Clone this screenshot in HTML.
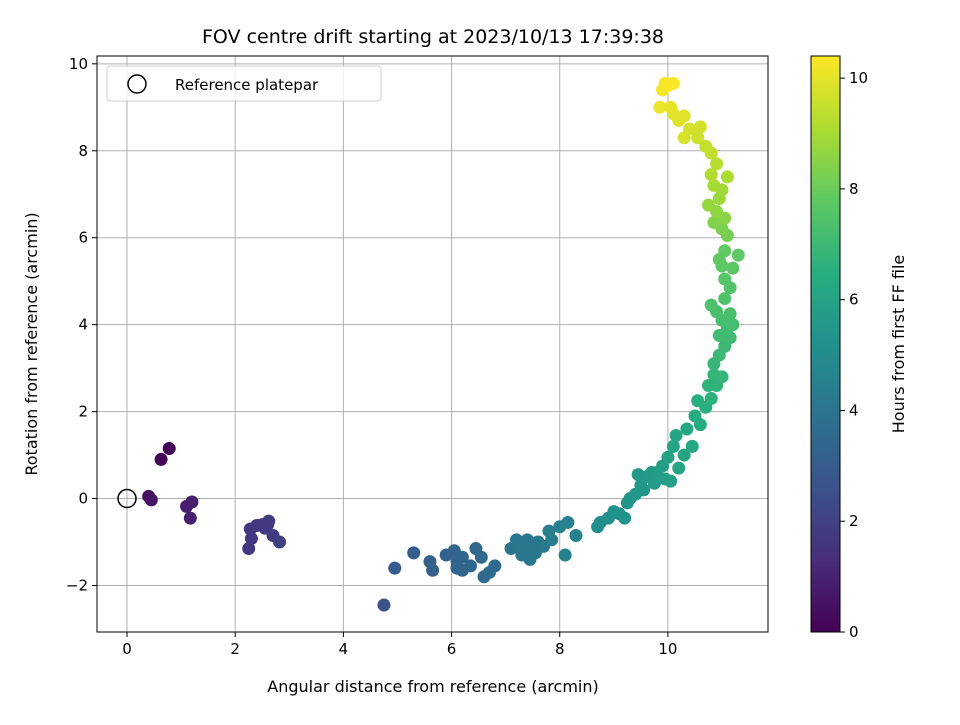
<!DOCTYPE html>
<html><head><meta charset="utf-8"><style>
body{margin:0;background:#fff;font-family:"Liberation Sans","DejaVu Sans",sans-serif}
</style></head><body>
<svg id="chart" width="960" height="720" xmlns="http://www.w3.org/2000/svg" font-family="DejaVu Sans, Liberation Sans, sans-serif">
<defs>
<linearGradient id="vir" x1="0" y1="1" x2="0" y2="0">
<stop offset="0" stop-color="#440154"/><stop offset="0.125" stop-color="#472d7b"/><stop offset="0.25" stop-color="#3b528b"/><stop offset="0.375" stop-color="#2c728e"/><stop offset="0.5" stop-color="#21918c"/><stop offset="0.625" stop-color="#28ae80"/><stop offset="0.75" stop-color="#5ec962"/><stop offset="0.875" stop-color="#addc30"/><stop offset="1" stop-color="#fde725"/>
</linearGradient>
</defs>
<rect x="0" y="0" width="960" height="720" fill="#fff"/>
<text x="433" y="43" font-size="19" text-anchor="middle">FOV centre drift starting at 2023/10/13 17:39:38</text>
<g id="grid"></g>
<g id="points"></g>
<rect x="97" y="56" width="671" height="576" fill="none" stroke="#000" stroke-width="1"/>
<g id="ticks"></g>
<text x="433" y="692" font-size="16" text-anchor="middle">Angular distance from reference (arcmin)</text>
<text transform="translate(37,344) rotate(-90)" font-size="16" text-anchor="middle">Rotation from reference (arcmin)</text>
<g>
<rect x="107" y="66" width="274" height="35" rx="3" fill="#fff" fill-opacity="0.8" stroke="#ccc"/>
<circle cx="137" cy="84" r="9" fill="none" stroke="#000" stroke-width="1.5"/>
<text x="175" y="90" font-size="15">Reference platepar</text>
</g>
<rect x="811" y="56" width="29" height="576" fill="url(#vir)" stroke="#000" stroke-width="1"/>
<g id="cbticks"></g>
<text transform="translate(904,344) rotate(-90)" font-size="16" text-anchor="middle">Hours from first FF file</text>
</svg>
<script>
const xTicks=[0,2,4,6,8,10];
const yTicks=[-2,0,2,4,6,8,10];
const cTicks=[0,2,4,6,8,10];
const xs=[0.78,0.63,0.4,0.45,1.1,1.2,1.17,2.28,2.4,2.5,2.62,2.55,2.7,2.82,2.3,2.25,2.6,4.75,4.95,5.3,5.6,5.65,5.9,6.05,6.1,6.2,6.1,6.35,6.45,6.55,6.6,6.7,6.8,6.2,7.1,7.2,7.3,7.4,7.5,7.6,7.45,7.3,7.7,7.55,7.8,7.85,8.0,8.15,8.1,8.3,8.7,8.75,8.9,9.0,9.1,9.2,9.25,9.3,9.4,9.5,9.45,9.6,9.7,9.55,9.75,9.8,9.9,9.95,10.05,10.0,10.1,10.2,10.3,10.15,10.35,10.45,10.5,10.6,10.55,10.7,10.8,10.75,10.9,10.85,11.0,10.85,10.95,11.05,11.15,10.95,11.1,11.2,11.0,10.9,11.15,10.8,11.05,11.15,11.05,11.2,11.0,11.3,11.05,10.95,11.1,11.0,10.85,11.05,10.9,10.75,10.95,11.0,10.85,11.1,10.8,10.9,10.8,10.7,10.55,10.6,10.4,10.3,10.2,10.1,10.3,10.05,9.85,9.9,10.0,10.1,9.95];
const ys=[1.15,0.9,0.05,-0.03,-0.18,-0.08,-0.45,-0.7,-0.62,-0.6,-0.52,-0.68,-0.85,-1.0,-0.92,-1.15,-0.6,-2.45,-1.6,-1.25,-1.45,-1.65,-1.3,-1.2,-1.45,-1.35,-1.6,-1.55,-1.15,-1.35,-1.8,-1.7,-1.55,-1.65,-1.15,-0.95,-1.1,-0.95,-1.2,-1.0,-1.4,-1.3,-1.1,-1.25,-0.75,-0.95,-0.65,-0.55,-1.3,-0.85,-0.65,-0.55,-0.45,-0.3,-0.35,-0.45,-0.1,0.0,0.1,0.3,0.55,0.5,0.6,0.2,0.35,0.6,0.75,0.45,0.4,0.95,1.2,0.7,1.0,1.45,1.6,1.2,1.9,1.7,2.25,2.1,2.3,2.6,2.6,2.85,2.8,3.1,3.3,3.5,3.7,3.75,3.9,4.0,4.1,4.3,4.25,4.45,4.6,4.85,5.05,5.3,5.35,5.6,5.7,5.5,6.05,6.2,6.35,6.45,6.6,6.75,6.9,7.1,7.2,7.4,7.45,7.7,7.95,8.1,8.3,8.55,8.5,8.3,8.7,8.85,8.8,9.0,9.0,9.4,9.5,9.55,9.55];
const hours=[0.05,0.1,0.5,0.55,0.8,0.85,0.9,1.7,1.72,1.75,1.78,1.8,1.85,1.9,1.7,1.68,1.8,2.6,3.0,3.1,3.2,3.2,3.3,3.3,3.35,3.4,3.35,3.45,3.5,3.5,3.55,3.6,3.6,3.4,4.0,4.05,4.1,4.1,4.15,4.2,4.15,4.1,4.25,4.2,4.4,4.45,4.5,4.55,4.5,4.6,5.0,5.05,5.1,5.2,5.25,5.3,5.35,5.4,5.45,5.5,5.55,5.6,5.65,5.5,5.7,5.75,5.8,5.8,5.85,5.9,6.0,6.0,6.1,6.1,6.2,6.2,6.35,6.4,6.5,6.55,6.6,6.7,6.75,6.8,6.85,6.9,6.95,7.0,7.05,7.1,7.15,7.2,7.25,7.3,7.3,7.4,7.45,7.5,7.6,7.7,7.75,7.8,7.85,7.8,8.2,8.3,8.4,8.5,8.6,8.7,8.8,8.9,9.0,9.1,9.15,9.25,9.4,9.5,9.6,9.7,9.75,9.8,9.9,9.95,9.95,10.05,10.1,10.25,10.3,10.35,10.3];
const X0=97,X1=768,Y0=56,Y1=632;
const xmin=-0.555,xmax=11.85,ymin=-3.07,ymax=10.18,cmax=10.4;
function sx(v){return X0+(v-xmin)/(xmax-xmin)*(X1-X0);}
function sy(v){return Y1-(v-ymin)/(ymax-ymin)*(Y1-Y0);}
function sc(v){return Y1-v/cmax*(Y1-Y0);}
const vir=[[68,1,84],[71,45,123],[59,82,139],[44,114,142],[33,145,140],[40,174,128],[94,201,98],[173,220,48],[253,231,37]];
function col(h){let t=Math.max(0,Math.min(1,h/cmax))*8;let i=Math.min(7,Math.floor(t));let f=t-i;const a=vir[i],b=vir[i+1];return 'rgb('+a.map((c,k)=>Math.round(c+(b[k]-c)*f)).join(',')+')';}
const NS='http://www.w3.org/2000/svg';
function mk(tag,attrs,parent){const e=document.createElementNS(NS,tag);for(const k in attrs)e.setAttribute(k,attrs[k]);parent.appendChild(e);return e;}
const grid=document.getElementById('grid'),ticks=document.getElementById('ticks'),pts=document.getElementById('points'),cb=document.getElementById('cbticks');
xTicks.forEach(v=>{const x=sx(v);
const g=mk('line',{x1:x,x2:x,y1:Y0,y2:Y1,stroke:'#b0b0b0','stroke-width':1},grid);


const t=mk('line',{x1:x,x2:x,y1:Y1,y2:Y1+5,stroke:'#000'},ticks);


const l=mk('text',{x:x,y:Y1+22,'font-size':15,'text-anchor':'middle'},ticks);l.textContent=v;

});
yTicks.forEach(v=>{const y=sy(v);
const g=mk('line',{x1:X0,x2:X1,y1:y,y2:y,stroke:'#b0b0b0','stroke-width':1},grid);


const t=mk('line',{x1:X0-5,x2:X0,y1:y,y2:y,stroke:'#000'},ticks);


const l=mk('text',{x:X0-9,y:y+5,'font-size':15,'text-anchor':'end'},ticks);l.textContent=(v<0?'\u2212'+(-v):v);

});
cTicks.forEach(v=>{const y=sc(v);
const t=mk('line',{x1:840,x2:845,y1:y,y2:y,stroke:'#000'},cb);


const l=mk('text',{x:849,y:y+5,'font-size':15},cb);l.textContent=v;

});
const ref=mk('circle',{cx:sx(0),cy:sy(0),r:9,fill:'none',stroke:'#000','stroke-width':1.5},pts);


xs.forEach((v,i)=>{const c=mk('circle',{cx:sx(v),cy:sy(ys[i]),r:6.5,fill:col(hours[i])},pts);

});
</script>
</body></html>
